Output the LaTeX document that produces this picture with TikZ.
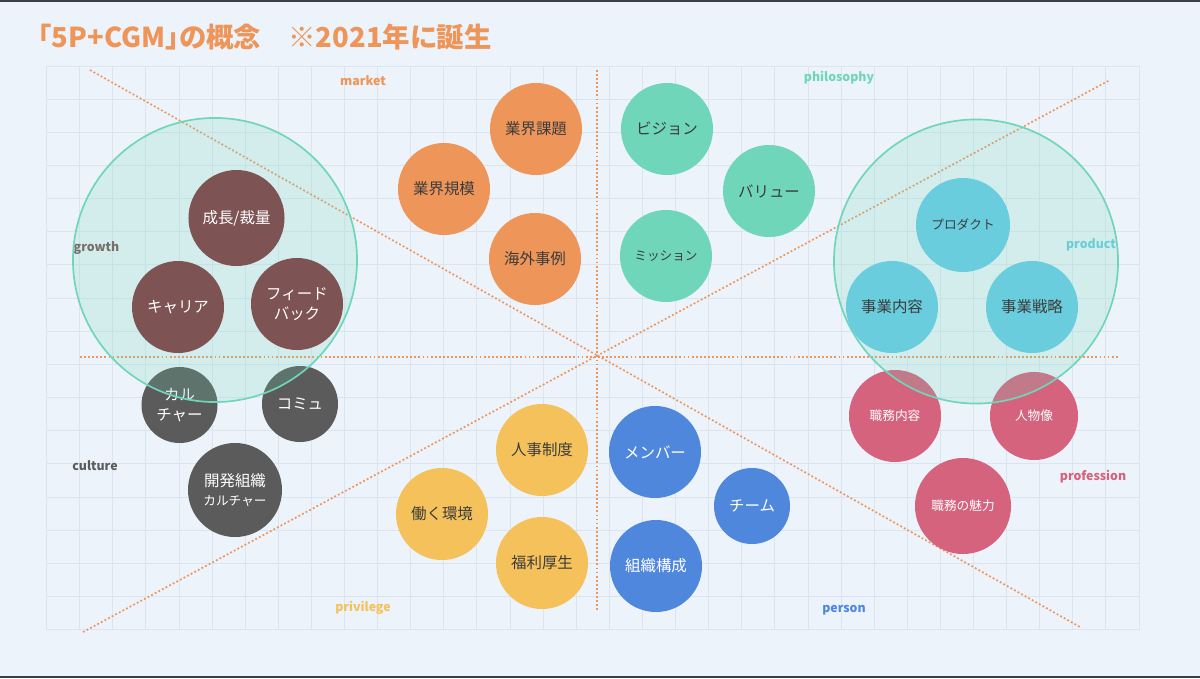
\documentclass[tikz,border=0pt]{standalone}
\usepackage{fontspec}
\setmainfont{Noto Sans CJK JP}
\definecolor{bgc}{HTML}{EDF3FA}
\definecolor{edgec}{HTML}{3A3F47}
\definecolor{gridc}{HTML}{DCE5EF}
\definecolor{orc}{HTML}{EE955A}
\definecolor{tlc}{HTML}{6FD6B9}
\definecolor{cyc}{HTML}{6ACDDD}
\definecolor{brc}{HTML}{7E5353}
\definecolor{gyc}{HTML}{5B5B5B}
\definecolor{pkc}{HTML}{D5637E}
\definecolor{ylc}{HTML}{F5C15B}
\definecolor{blc}{HTML}{4F87DD}
\definecolor{txc}{HTML}{3C3C3C}
\begin{document}
\begin{tikzpicture}
				[x=0.025cm,y=-0.025cm,
				bub/.style={circle,inner sep=0pt,minimum size=2.3cm,align=center,
				font=\fontsize{11}{14}\selectfont},
				small/.style={font=\fontsize{9}{12}\selectfont},
				mkt/.style={bub,fill=orc,text=txc},
				phi/.style={bub,fill=tlc,text=txc},
				grw/.style={bub,fill=brc,text=white},
				cul/.style={bub,fill=gyc,text=white},
				prd/.style={bub,fill=cyc,text=txc},
				prf/.style={bub,fill=pkc,text=white},
				prv/.style={bub,fill=ylc,text=txc},
				psn/.style={bub,fill=blc,text=white},
				ring/.style={circle,minimum size=7.1cm,draw=tlc,line width=1.2pt,
				fill=tlc,fill opacity=.2,draw opacity=1},
				lbl/.style={font=\bfseries\fontsize{8.8}{11}\selectfont,inner sep=0pt},
				axis/.style={orc,line width=1.2pt,dash pattern=on 1.3pt off 1.6pt},
				gridln/.style={gridc,line width=.6pt}]
				\useasboundingbox (0,0) rectangle (1200,678);
				\fill[bgc] (0,0) rectangle (1200,678);
				\fill[edgec] (0,0) rectangle (1200,2);
				\fill[edgec] (0,676) rectangle (1200,678);

				\foreach \i in {0,...,33}
				\draw[gridln] ({46.5+33.106*\i},66) -- ({46.5+33.106*\i},629.5);
				\foreach \j in {0,...,17}
				\draw[gridln] (46.5,{66+33.15*\j}) -- (1139,{66+33.15*\j});

				\node[anchor=west,inner sep=0pt,text=orc,
				font=\bfseries\fontsize{19.5}{21}\selectfont\addfontfeatures{RawFeature=+palt}]
				(title) at (38,37) {「5P+CGM」の概念　※2021年に誕生};

				\coordinate (vt) at (597,70);
				\coordinate (vb) at (597,612);
				\coordinate (hl) at (80,357);
				\coordinate (hr) at (1118,357);
				\coordinate (d1a) at (90,70);
				\coordinate (d1b) at (1080,627);
				\coordinate (d2a) at (83,632);
				\coordinate (d2b) at (1110,80);
				\foreach \from/\to in {vt/vb,hl/hr,d1a/d1b,d2a/d2b}
				\draw[axis] (\from) -- (\to);

				\node[lbl,text=orc] (lmkt) at (363,81) {market};
				\node[lbl,text=tlc] (lphi) at (839,78) {philosophy};
				\node[lbl,text=cyc] (lprd) at (1091,245) {product};
				\node[lbl,text=pkc] (lprf) at (1093,477) {profession};
				\node[lbl,text=blc] (lpsn) at (844,610) {person};
				\node[lbl,text=ylc] (lprv) at (363,608) {privilege};
				\node[lbl,text=gyc] (lcul) at (95,466) {culture};
				\node[lbl,text=brc!85!gyc] (lgrw) at (96.5,248) {growth};

				\node[mkt] (kadai) at (536,129) {業界課題};
				\node[mkt] (kibo) at (444,189) {業界規模};
				\node[mkt] (kaigai) at (535,259) {海外事例};

				\node[phi] (vision) at (667,129) {ビジョン};
				\node[phi] (value) at (769,191) {バリュー};
				\node[phi,small] (mission) at (666,256) {ミッション};

				\node[cul,minimum size=1.9cm] (cult) at (179.5,405) {カル\\チャー};
				\node[cul,minimum size=1.9cm] (comm) at (300,404) {コミュ};
				\node[cul,minimum size=2.35cm] (devorg) at (235,490)
				{開発組織\\{\fontsize{9}{12}\selectfont カルチャー}};

				\node[prf,small] (shokumu) at (895,416) {職務内容};
				\node[prf,small,minimum size=2.2cm] (jinbutsu) at (1034,416) {人物像};
				\node[prf,small,minimum size=2.4cm] (miryoku) at (963,506) {職務の魅力};

				\node[ring] (rgrw) at (215,260) {}; %growth
				\node[ring] (rprd) at (976,261.5) {}; %product

				\node[grw,minimum size=2.4cm] (seicho) at (236.5,218) {成長/裁量};
				\node[grw] (career) at (178,307) {キャリア};
				\node[grw] (fb) at (297,304) {フィード\\バック};

				\node[prd,small,minimum size=2.35cm] (product) at (963,225) {プロダクト};
				\node[prd] (naiyo) at (892,307) {事業内容};
				\node[prd] (senryaku) at (1032,307) {事業戦略};

				\node[prv] (jinji) at (542,450) {人事制度};
				\node[prv] (kankyo) at (442,514) {働く環境};
				\node[prv] (fukuri) at (542,563) {福利厚生};

				\node[psn] (member) at (655,452) {メンバー};
				\node[psn,minimum size=1.9cm] (team) at (752,506) {チーム};
				\node[psn] (soshiki) at (656,566) {組織構成};
			\end{tikzpicture}
\end{document}
